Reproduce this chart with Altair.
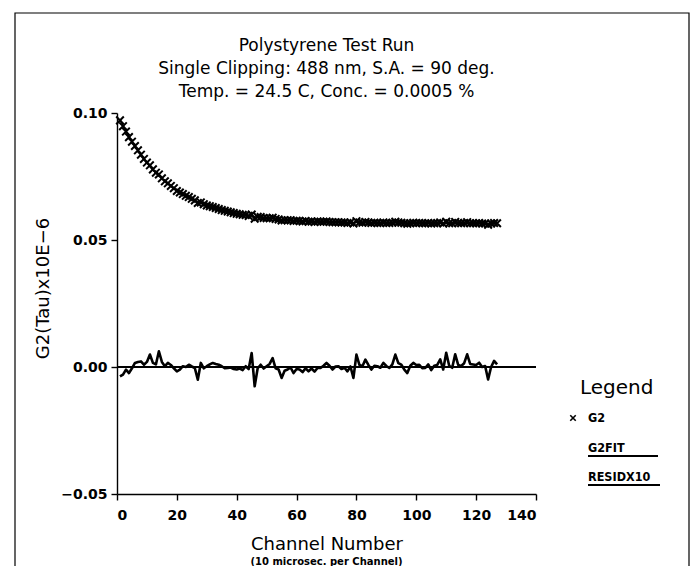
import altair as alt
import pandas as pd

# ---------------- data ----------------
channel = list(range(1, 128))

g2 = [
    0.0971, 0.0948, 0.0927, 0.0905, 0.0887, 0.0870, 0.0853, 0.0836, 0.0819, 0.0805,
    0.0794, 0.0778, 0.0765, 0.0758, 0.0743, 0.0731, 0.0723, 0.0713, 0.0704, 0.0693,
    0.0687, 0.0681, 0.0674, 0.0669, 0.0662, 0.0656, 0.0646, 0.0648, 0.0641, 0.0636,
    0.0633, 0.0630, 0.0626, 0.0622, 0.0618, 0.0615, 0.0612, 0.0609, 0.0606, 0.0603,
    0.0601, 0.0599, 0.0598, 0.0595, 0.0600, 0.0584, 0.0591, 0.0590, 0.0587, 0.0586,
    0.0586, 0.0588, 0.0583, 0.0581, 0.0577, 0.0578, 0.0578, 0.0578, 0.0575, 0.0576,
    0.0575, 0.0573, 0.0575, 0.0572, 0.0573, 0.0571, 0.0573, 0.0572, 0.0572, 0.0573,
    0.0571, 0.0570, 0.0570, 0.0570, 0.0569, 0.0569, 0.0567, 0.0569, 0.0565, 0.0574,
    0.0569, 0.0568, 0.0571, 0.0569, 0.0567, 0.0568, 0.0567, 0.0567, 0.0569, 0.0567,
    0.0567, 0.0568, 0.0572, 0.0569, 0.0568, 0.0566, 0.0564, 0.0566, 0.0568, 0.0567,
    0.0567, 0.0566, 0.0566, 0.0567, 0.0565, 0.0566, 0.0567, 0.0569, 0.0565, 0.0572,
    0.0566, 0.0566, 0.0571, 0.0567, 0.0566, 0.0567, 0.0570, 0.0566, 0.0566, 0.0566,
    0.0567, 0.0565, 0.0565, 0.0560, 0.0565, 0.0567, 0.0566,
]

g2fit = [
    0.0975, 0.0951, 0.0928, 0.0907, 0.0887, 0.0868, 0.0851, 0.0834, 0.0818, 0.0803,
    0.0789, 0.0776, 0.0764, 0.0752, 0.0741, 0.0731, 0.0721, 0.0712, 0.0704, 0.0695,
    0.0688, 0.0681, 0.0674, 0.0668, 0.0662, 0.0656, 0.0651, 0.0646, 0.0641, 0.0636,
    0.0632, 0.0628, 0.0625, 0.0621, 0.0618, 0.0615, 0.0612, 0.0609, 0.0607, 0.0604,
    0.0602, 0.0600, 0.0598, 0.0596, 0.0594, 0.0592, 0.0591, 0.0589, 0.0588, 0.0586,
    0.0585, 0.0584, 0.0583, 0.0582, 0.0581, 0.0580, 0.0579, 0.0578, 0.0577, 0.0577,
    0.0576, 0.0575, 0.0575, 0.0574, 0.0574, 0.0573, 0.0573, 0.0572, 0.0572, 0.0571,
    0.0571, 0.0571, 0.0570, 0.0570, 0.0570, 0.0569, 0.0569, 0.0569, 0.0569, 0.0569,
    0.0568, 0.0568, 0.0568, 0.0568, 0.0568, 0.0568, 0.0567, 0.0567, 0.0567, 0.0567,
    0.0567, 0.0567, 0.0567, 0.0567, 0.0567, 0.0567, 0.0566, 0.0566, 0.0566, 0.0566,
    0.0566, 0.0566, 0.0566, 0.0566, 0.0566, 0.0566, 0.0566, 0.0566, 0.0566, 0.0566,
    0.0566, 0.0566, 0.0566, 0.0566, 0.0566, 0.0565, 0.0565, 0.0565, 0.0565, 0.0565,
    0.0565, 0.0565, 0.0565, 0.0565, 0.0565, 0.0565, 0.0565,
]

residx10 = [
    -0.0037, -0.0030, -0.0010, -0.0024, -0.0005, 0.0016, 0.0020, 0.0022, 0.0009, 0.0020,
    0.0049, 0.0016, 0.0010, 0.0062, 0.0020, 0.0003, 0.0016, 0.0008, -0.0005, -0.0017,
    -0.0010, 0.0003, 0.0000, 0.0009, 0.0002, -0.0004, -0.0050, 0.0016, -0.0005, 0.0003,
    0.0010, 0.0016, 0.0012, 0.0009, 0.0003, -0.0005, -0.0004, -0.0002, -0.0008, -0.0010,
    -0.0006, -0.0012, 0.0003, -0.0008, 0.0055, -0.0076, -0.0005, 0.0009, -0.0006, 0.0003,
    0.0012, 0.0035, -0.0005, -0.0010, -0.0043, -0.0015, -0.0010, -0.0002, -0.0024, -0.0008,
    -0.0010, -0.0020, -0.0005, -0.0017, -0.0006, -0.0018, -0.0004, -0.0004, 0.0005, 0.0016,
    0.0005, -0.0010, 0.0002, 0.0003, -0.0008, -0.0003, -0.0017, 0.0002, -0.0043, 0.0049,
    0.0008, 0.0003, 0.0029, 0.0008, -0.0010, 0.0005, 0.0003, -0.0003, 0.0016, 0.0004,
    -0.0004, 0.0010, 0.0049, 0.0015, 0.0009, -0.0010, -0.0024, 0.0005, 0.0016, 0.0008,
    0.0009, -0.0005, -0.0004, 0.0010, -0.0012, 0.0005, 0.0008, 0.0030, -0.0010, 0.0056,
    0.0005, -0.0003, 0.0050, 0.0008, 0.0004, 0.0015, 0.0050, 0.0012, 0.0010, 0.0008,
    0.0017, 0.0000, 0.0004, -0.0049, 0.0000, 0.0024, 0.0010,
]

x_ticks = [0, 20, 40, 60, 80, 100, 120, 140]
y_ticks = [-0.05, 0.00, 0.05, 0.10]

title_lines = [
    "Polystyrene Test Run",
    "Single Clipping: 488 nm, S.A. = 90 deg.",
    "Temp. = 24.5 C, Conc. = 0.0005 %",
]
y_title = "G2(Tau)x10E\u22126"
x_title = "Channel Number"
x_subtitle = "(10 microsec. per Channel)"
legend_title = "Legend"
legend_labels = ["G2", "G2FIT", "RESIDX10"]

# ---------------- chart ----------------
df = pd.DataFrame({"channel": channel, "G2": g2, "G2FIT": g2fit, "RESIDX10": residx10})

W, H = 419, 381
FONT = "DejaVu Sans"
LEGFONT = "'Liberation Sans Narrow', 'DejaVu Sans Condensed', 'Liberation Sans'"
XSHAPE = "M-1,-1L1,1M-1,1L1,-1"

xscale = alt.Scale(domain=[0, 140], nice=False)
yscale = alt.Scale(domain=[-0.05, 0.10], nice=False, zero=False)

xaxis = alt.Axis(values=x_ticks, title=x_title, titlePadding=13)
yaxis = alt.Axis(
    values=y_ticks, format=".2f", title=y_title,
    titleX=-74, titleY=175, titleAngle=-90, titleAlign="center", titleBaseline="middle",
)

base = alt.Chart(df)

zero_rule = base.mark_rule(color="black", strokeWidth=1.3).encode(
    y=alt.datum(0, scale=yscale)
)

g2_pts = base.mark_point(
    shape=XSHAPE, size=58, strokeWidth=2.0, color="black", filled=False, opacity=1
).encode(
    x=alt.X("channel:Q", scale=xscale, axis=xaxis),
    y=alt.Y("G2:Q", scale=yscale, axis=yaxis),
)
fit_line = base.mark_line(color="black", strokeWidth=1.5).encode(
    x=alt.X("channel:Q", scale=xscale), y=alt.Y("G2FIT:Q", scale=yscale)
)
resid_line = base.mark_line(color="black", strokeWidth=2.6, strokeJoin="round").encode(
    x=alt.X("channel:Q", scale=xscale), y=alt.Y("RESIDX10:Q", scale=yscale)
)

one = alt.Chart(pd.DataFrame({"k": [0]}))


def txt(s, x, y, size, weight="normal", align="center", font=FONT):
    return one.mark_text(
        text=s, font=font, fontSize=size, fontWeight=weight, color="black",
        align=align, baseline="middle",
    ).encode(x=alt.value(x), y=alt.value(y))


frame = one.mark_rect(fill=None, stroke="black", strokeWidth=1.2).encode(
    x=alt.value(-102), x2=alt.value(572), y=alt.value(-100), y2=alt.value(470)
)

titles = [
    txt(title_lines[0], W / 2, -67, 17),
    txt(title_lines[1], W / 2, -44, 17),
    txt(title_lines[2], W / 2, -21, 17),
]

subtitle = txt(x_subtitle, W / 2, 449, 10, "bold")

leg_title = txt(legend_title, 463, 275, 20, align="left")
leg_x = one.mark_point(
    shape=XSHAPE, size=30, strokeWidth=1.6, color="black", filled=False, opacity=1
).encode(x=alt.value(456), y=alt.value(305))
leg_t1 = txt(legend_labels[0], 471, 305, 12.5, "bold", "left", LEGFONT)
leg_t2 = txt(legend_labels[1], 471, 335, 12.5, "bold", "left", LEGFONT)
leg_t3 = txt(legend_labels[2], 471, 364, 12.5, "bold", "left", LEGFONT)
leg_line1 = one.mark_rule(color="black", strokeWidth=1.8).encode(
    x=alt.value(471), x2=alt.value(541), y=alt.value(343)
)
leg_line2 = one.mark_rule(color="black", strokeWidth=1.8).encode(
    x=alt.value(471), x2=alt.value(543), y=alt.value(372)
)

chart = alt.layer(
    g2_pts, zero_rule, fit_line, resid_line, frame,
    *titles, subtitle, leg_title, leg_x, leg_t1, leg_t2, leg_t3, leg_line1, leg_line2,
).properties(
    width=W,
    height=H,
    autosize=alt.AutoSizeParams(type="none"),
    padding={"left": 109, "top": 105, "right": 154, "bottom": 72},
).configure_view(stroke=None).configure_axis(
    domainColor="black", domainWidth=1.4, tickColor="black", tickWidth=1.4, tickSize=6,
    labelFont=FONT, labelFontSize=14, labelFontWeight="bold", labelColor="black",
    labelPadding=4, grid=False,
    titleFont=FONT, titleFontSize=18, titleFontWeight="normal", titleColor="black",
).configure_axisX(labelPadding=8)

chart.save("out.html", embed_options={"renderer": "svg", "actions": False})
